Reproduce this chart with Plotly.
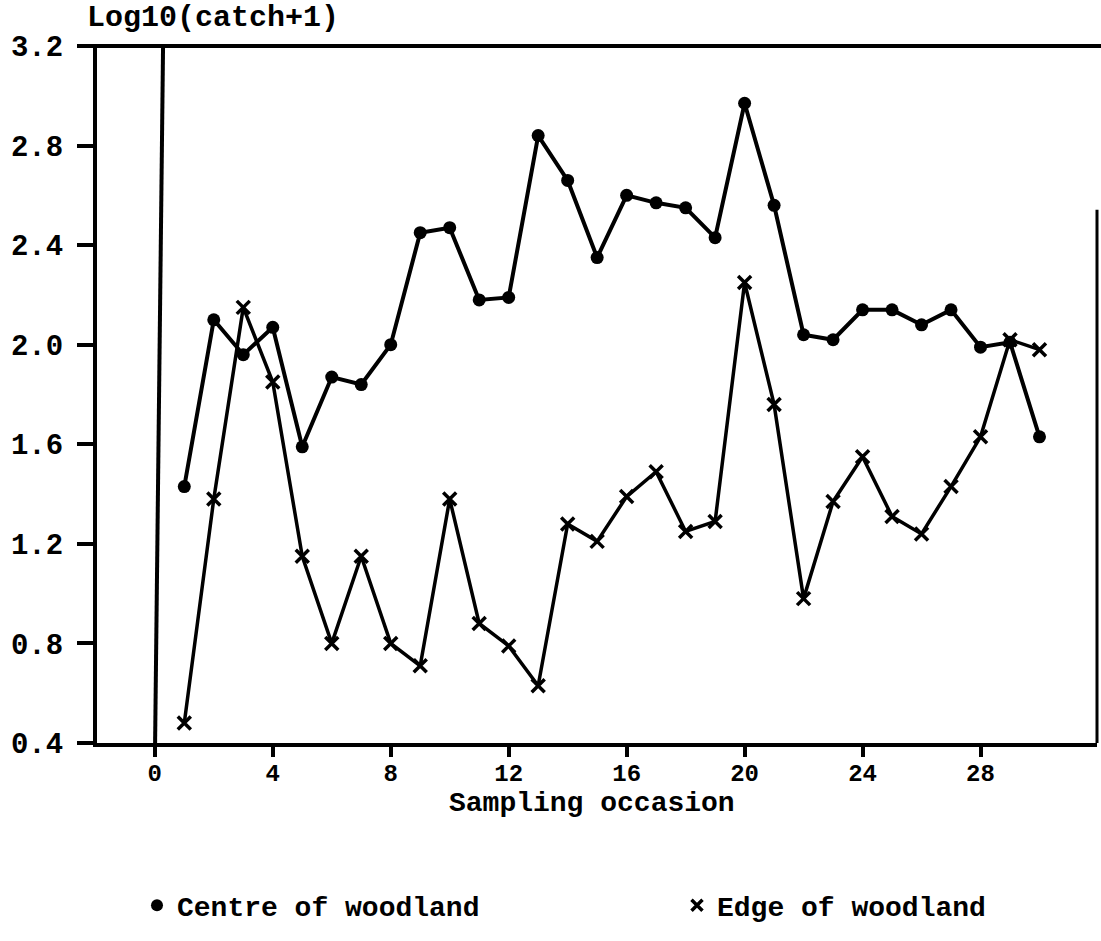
import plotly.graph_objects as go

occasion = list(range(1, 31))
centre = [1.43, 2.10, 1.96, 2.07, 1.59, 1.87, 1.84, 2.00, 2.45, 2.47,
          2.18, 2.19, 2.84, 2.66, 2.35, 2.60, 2.57, 2.55, 2.43, 2.97,
          2.56, 2.04, 2.02, 2.14, 2.14, 2.08, 2.14, 1.99, 2.01, 1.63]
edge = [0.48, 1.38, 2.15, 1.85, 1.15, 0.80, 1.15, 0.80, 0.71, 1.38,
        0.88, 0.79, 0.63, 1.28, 1.21, 1.39, 1.49, 1.25, 1.29, 2.25,
        1.76, 0.98, 1.37, 1.55, 1.31, 1.24, 1.43, 1.63, 2.02, 1.98]

x_ticks = [0, 4, 8, 12, 16, 20, 24, 28]
y_ticks = [0.4, 0.8, 1.2, 1.6, 2.0, 2.4, 2.8, 3.2]
y_labels = ["0.4", "0.8", "1.2", "1.6", "2.0", "2.4", "2.8", "3.2"]

FONT = "Liberation Mono"
ink = "black"

fig = go.Figure()

fig.add_trace(go.Scatter(
    x=occasion, y=centre, mode="lines+markers", name="Centre of woodland",
    line=dict(color=ink, width=4), marker=dict(symbol="circle", size=13, color=ink),
    showlegend=False, legendgroup="c"))
fig.add_trace(go.Scatter(
    x=occasion, y=edge, mode="lines+markers", name="Edge of woodland",
    line=dict(color=ink, width=3.5),
    marker=dict(symbol="x-thin-open", size=13, color=ink, line=dict(color=ink, width=3.5)),
    showlegend=False, legendgroup="e"))

# legend-only entries (markers without lines, as in the original key)
fig.add_trace(go.Scatter(
    x=[None], y=[None], mode="markers", name="Centre of woodland",
    marker=dict(symbol="circle", size=12, color=ink), legendgroup="c", legend="legend"))
fig.add_trace(go.Scatter(
    x=[None], y=[None], mode="markers", name="Edge of woodland",
    marker=dict(symbol="x-thin-open", size=11, color=ink, line=dict(color=ink, width=3.5)),
    legendgroup="e", legend="legend2"))

leg_font = dict(family=FONT, size=28, color=ink, weight="bold")
fig.update_layout(
    width=1101, height=941,
    margin=dict(l=97, r=4, t=46, b=198, autoexpand=False),
    paper_bgcolor="white", plot_bgcolor="white",
    font=dict(family=FONT, color=ink, size=28, weight="bold"),
    showlegend=True,
    legend=dict(orientation="h", x=0.040, xanchor="left", y=-0.2333, yanchor="middle",
                font=leg_font, bgcolor="rgba(0,0,0,0)"),
    legend2=dict(orientation="h", x=0.580, xanchor="left", y=-0.2333, yanchor="middle",
                 font=leg_font, bgcolor="rgba(0,0,0,0)"),
)

fig.update_xaxes(
    range=[-1.96, 31.95], tickvals=x_ticks, ticktext=[str(v) for v in x_ticks],
    showgrid=False, zeroline=False, automargin=False,
    showline=True, linecolor=ink, linewidth=4,
    ticks="outside", ticklen=10, tickwidth=4, tickcolor=ink,
    ticklabelstandoff=-5,
    tickfont=dict(family=FONT, size=24, color=ink, weight="bold"),
)
fig.update_yaxes(
    range=[0.4, 3.2], tickvals=y_ticks, ticktext=y_labels,
    showgrid=False, zeroline=False, automargin=False,
    showline=True, linecolor=ink, linewidth=4,
    ticks="outside", ticklen=16, tickwidth=4, tickcolor=ink,
    ticklabelstandoff=8,
    tickfont=dict(family=FONT, size=29, color=ink, weight="bold"),
)

# frame: top line, partial right border, and the vertical line near x = 0
fig.add_shape(type="line", xref="paper", yref="paper", x0=-0.014, x1=1.004, y0=1, y1=1,
              line=dict(color=ink, width=4))
fig.add_shape(type="line", xref="paper", yref="paper", x0=1.0, x1=1.0, y0=0, y1=0.765,
              line=dict(color=ink, width=3))
fig.add_shape(type="line", xref="x", yref="y", x0=0.28, x1=0.01, y0=3.2, y1=0.4,
              line=dict(color=ink, width=4))

fig.add_annotation(text="Log10(catch+1)", xref="paper", yref="paper",
                   x=-0.012, y=1.040, xanchor="left", yanchor="middle", showarrow=False,
                   font=dict(family=FONT, size=30, color=ink, weight="bold"))
fig.add_annotation(text="Sampling occasion", xref="paper", yref="paper",
                   x=0.495, y=-0.0868, xanchor="center", yanchor="middle", showarrow=False,
                   font=dict(family=FONT, size=28, color=ink, weight="bold"))

fig.write_html("out.html", config={"displayModeBar": False},
               post_script="document.body.style.margin='0';")
